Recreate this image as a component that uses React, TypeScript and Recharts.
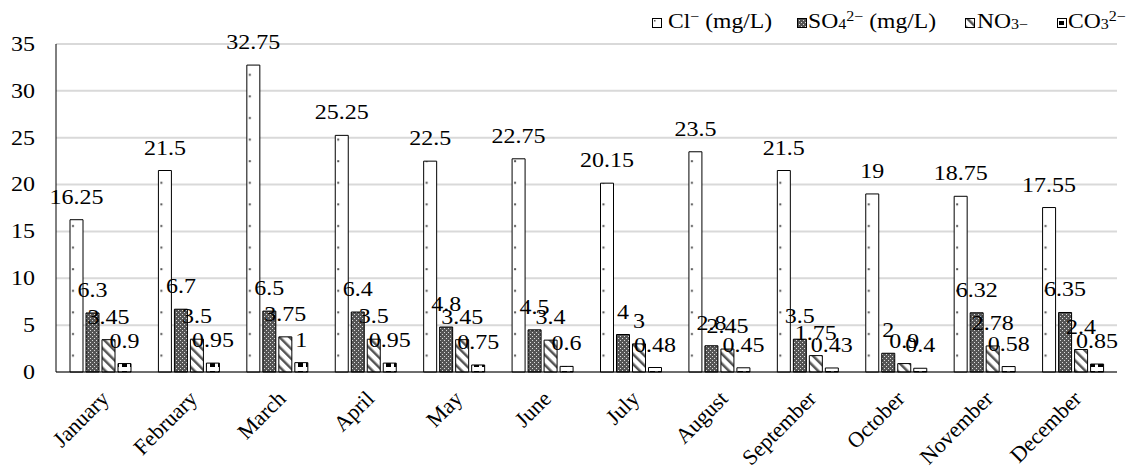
import React from "react"
import { BarChart, Bar, XAxis, YAxis, CartesianGrid, Legend, LabelList } from "recharts"

// monthly ion concentrations
const months = [
  "January", "February", "March", "April", "May", "June",
  "July", "August", "September", "October", "November", "December",
]
const clValues = [16.25, 21.5, 32.75, 25.25, 22.5, 22.75, 20.15, 23.5, 21.5, 19, 18.75, 17.55]
const so4Values = [6.3, 6.7, 6.5, 6.4, 4.8, 4.5, 4, 2.8, 3.5, 2, 6.32, 6.35]
const no3Values = [3.45, 3.5, 3.75, 3.5, 3.45, 3.4, 3, 2.45, 1.75, 0.9, 2.78, 2.4]
const co3Values = [0.9, 0.95, 1, 0.95, 0.75, 0.6, 0.48, 0.45, 0.43, 0.4, 0.58, 0.85]
const yTicks = [0, 5, 10, 15, 20, 25, 30, 35]

const data = months.map((month, i) => ({
  month,
  cl: clValues[i],
  so4: so4Values[i],
  no3: no3Values[i],
  co3: co3Values[i],
}))

const FONT = "Liberation Serif, Tinos, DejaVu Serif, serif"
const SX = 1.2

const series = [
  { key: "cl", fill: "url(#pCl)", icon: "url(#pClIcon)" },
  { key: "so4", fill: "url(#pSo4)", icon: "url(#pSo4)" },
  { key: "no3", fill: "url(#pNo3)", icon: "url(#pNo3)" },
  { key: "co3", fill: "url(#pCo3)", icon: "url(#pCo3)" },
]

const legendPos = [
  { icon: 652, text: 668 },
  { icon: 797, text: 808 },
  { icon: 965, text: 977 },
  { icon: 1057, text: 1068 },
]

const supStyle: React.CSSProperties = { fontSize: "0.68em", verticalAlign: "0.5em", lineHeight: 0 }
const subStyle: React.CSSProperties = { fontSize: "0.68em", verticalAlign: "-0.1em", lineHeight: 0 }

const legendLabels = [
  <>Cl<span style={supStyle}>−</span> (mg/L)</>,
  <>SO<span style={subStyle}>4</span><span style={supStyle}>2−</span> (mg/L)</>,
  <>NO<span style={subStyle}>3−</span></>,
  <>CO<span style={subStyle}>3</span><span style={supStyle}>2−</span></>,
]

const textStyle: React.CSSProperties = { fontFamily: FONT }

function ChartLegend() {
  return (
    <div style={{ position: "relative", width: 1128, height: 40 }}>
      {series.map((s, i) => (
        <React.Fragment key={s.key}>
          <svg
            width={10}
            height={10}
            style={{ position: "absolute", left: legendPos[i].icon, top: 18 }}
          >
            <rect x={0.5} y={0.5} width={9} height={9} fill={s.icon} stroke="#000" strokeWidth={1} />
          </svg>
          <div
            style={{
              position: "absolute",
              left: legendPos[i].text,
              top: 11,
              fontFamily: FONT,
              fontSize: 20,
              lineHeight: "20px",
              color: "#000",
              whiteSpace: "nowrap",
              transform: "scaleX(1.18)",
              transformOrigin: "left center",
            }}
          >
            {legendLabels[i]}
          </div>
        </React.Fragment>
      ))}
    </div>
  )
}

function ValueLabel(props: any) {
  const vb = props.viewBox ?? props
  const x = Number(vb.x) + Number(vb.width) / 2
  const y = Number(vb.y) - 16
  return (
    <text
      transform={`translate(${x},${y}) scale(${SX},1)`}
      textAnchor="middle"
      fontSize={20}
      style={textStyle}
      fill="#000"
    >
      {props.value}
    </text>
  )
}

function YTick(props: any) {
  const { x, y, payload } = props
  return (
    <text
      transform={`translate(${x},${y}) scale(${SX},1)`}
      textAnchor="end"
      dy="0.34em"
      fontSize={20}
      style={textStyle}
      fill="#000"
    >
      {payload.value}
    </text>
  )
}

function XTick(props: any) {
  const { x, y, payload } = props
  return (
    <text
      transform={`translate(${x + 10},${y + 28}) rotate(-45)`}
      textAnchor="end"
      fontSize={22}
      style={textStyle}
      fill="#000"
    >
      {payload.value}
    </text>
  )
}

export default function App() {
  return (
    <div>
      <style>{"body{margin:0}"}</style>
      <BarChart
        width={1128}
        height={475}
        data={data}
        margin={{ top: 44, right: 11, left: 0, bottom: 23 }}
        barSize={13}
        barGap={3}
      >
        <defs>
          <pattern id="pCl" patternUnits="userSpaceOnUse" x={56} y={0} width={88.417} height={21.6}>
            <rect width={88.417} height={21.6} fill="#fff" />
            <rect x={16} y={9} width={2} height={2} fill="#555" />
          </pattern>
          <pattern id="pClIcon" patternUnits="userSpaceOnUse" width={10} height={10}>
            <rect width={10} height={10} fill="#fff" />
            <rect x={2} y={2} width={1.5} height={1.5} fill="#555" />
          </pattern>
          <pattern id="pSo4" patternUnits="userSpaceOnUse" width={4} height={4}>
            <rect width={4} height={4} fill="#555" />
            <rect x={0} y={0} width={1} height={1} fill="#ddd" />
            <rect x={2} y={2} width={1} height={1} fill="#ddd" />
          </pattern>
          <pattern id="pNo3" patternUnits="userSpaceOnUse" width={7} height={7} patternTransform="rotate(-45)">
            <rect width={7} height={7} fill="#fff" />
            <rect x={0} y={0} width={2.5} height={7} fill="#555" />
          </pattern>
          <pattern id="pCo3" patternUnits="userSpaceOnUse" width={8} height={8}>
            <rect width={8} height={8} fill="#fff" />
            <rect x={2} y={3} width={5} height={4} fill="#000" />
          </pattern>
        </defs>
        <CartesianGrid vertical={false} stroke="#d9d9d9" strokeWidth={2} />
        <XAxis
          dataKey="month"
          interval={0}
          height={80}
          tickLine={false}
          tickSize={0}
          tickMargin={0}
          axisLine={{ stroke: "#000", strokeWidth: 1 }}
          tick={<XTick />}
        />
        <YAxis
          width={56}
          domain={[0, 35]}
          ticks={yTicks}
          tickLine={false}
          tickSize={0}
          tickMargin={21}
          axisLine={{ stroke: "#000", strokeWidth: 1 }}
          tick={<YTick />}
        />
        <Legend
          verticalAlign="middle"
          align="center"
          layout="horizontal"
          content={<ChartLegend />}
          wrapperStyle={{ top: 0, left: 0, width: 1128, height: 40 }}
        />
        {series.map((s) => (
          <Bar
            key={s.key}
            dataKey={s.key}
            fill={s.fill}
            stroke="#000"
            strokeWidth={1}
            isAnimationActive={false}
          >
            <LabelList dataKey={s.key} content={<ValueLabel />} />
          </Bar>
        ))}
      </BarChart>
    </div>
  )
}
